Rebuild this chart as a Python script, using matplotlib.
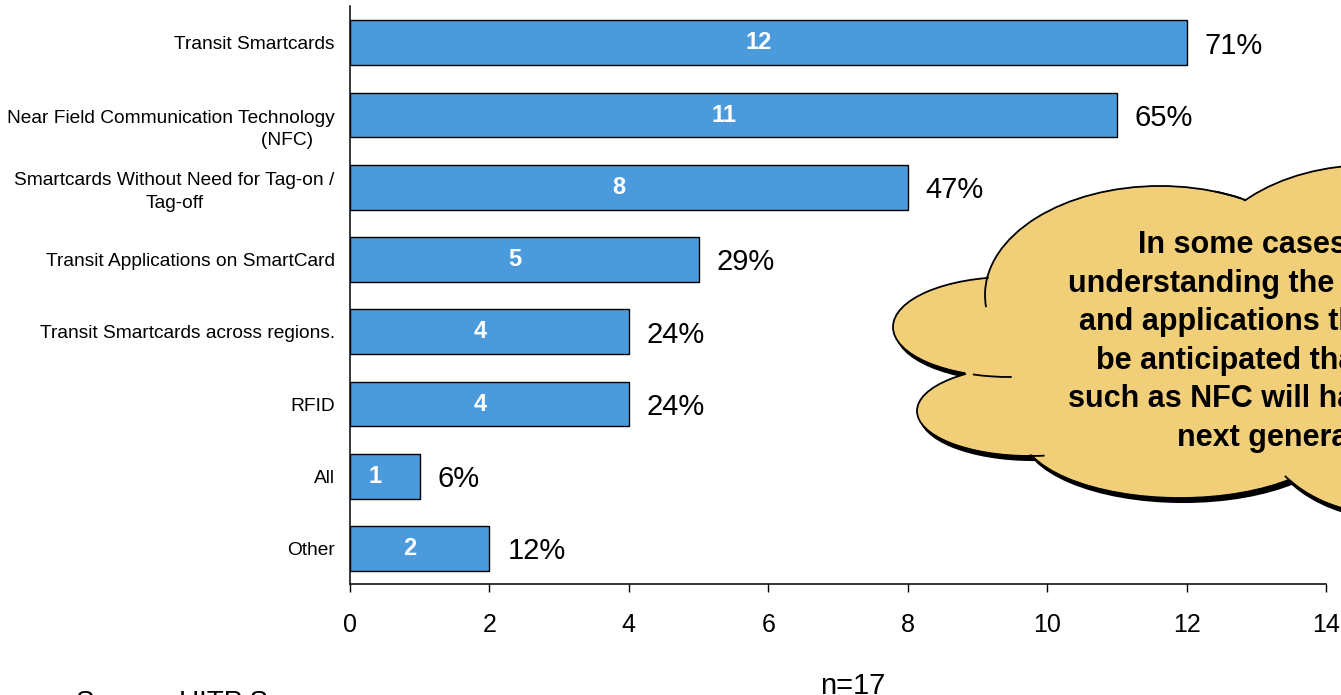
import matplotlib
matplotlib.use("Agg")
import matplotlib.pyplot as plt
from matplotlib.patches import Ellipse, Arc
from matplotlib.transforms import ScaledTranslation

plt.rcParams['font.family'] = ['Liberation Sans', 'DejaVu Sans']

# survey answers, top to bottom
categories = [
    "Transit Smartcards",
    "Near Field Communication Technology\n(NFC)\u00a0\u00a0\u00a0\u00a0",
    "Smartcards Without Need for Tag-on /\nTag-off",
    "Transit Applications on SmartCard",
    "Transit Smartcards across regions.",
    "RFID",
    "All",
    "Other",
]
counts = [12, 11, 8, 5, 4, 4, 1, 2]
n_total = 17
xticks = [0, 2, 4, 6, 8, 10, 12, 14]

callout_lines = [
    "In some cases,",
    "understanding the technologies",
    "and applications that can",
    "be anticipated that technologies",
    "such as NFC will have on the",
    "next generation",
]
source_note = "Source: UITP Survey"

W, H = 1341, 695
fig = plt.figure(figsize=(W / 100, H / 100), dpi=100)
ax = fig.add_axes([350 / W, 1 - 584 / H, (1326 - 350) / W, (584 - 6) / H])

ypos = list(range(len(categories)))
ax.barh(ypos, counts, height=0.62, color='#4A9ADC', edgecolor='black',
        linewidth=1.0, zorder=3)

ax.set_xlim(0, 14)
ax.set_ylim(len(categories) - 0.51, -0.51)
ax.set_xticks(xticks)
ax.tick_params(axis='x', direction='out', length=6, width=1.0, pad=15,
               labelsize=18)
ax.set_yticks(ypos, categories)
ax.tick_params(axis='y', length=0, pad=11, labelsize=13.8)
for lbl in ax.get_yticklabels():
    lbl.set_multialignment('center')
    lbl.set_linespacing(1.4)
# the NFC label hangs below its bar, second line pushed right
nfc = ax.get_yticklabels()[1]
nfc.set_multialignment('right')
nfc.set_transform(nfc.get_transform() + ScaledTranslation(0, -0.10, fig.dpi_scale_trans))

for side in ('top', 'right'):
    ax.spines[side].set_visible(False)
for side in ('left', 'bottom'):
    ax.spines[side].set_linewidth(1.1)

for y, c in zip(ypos, counts):
    ax.annotate(str(c), (c / 2, y), xytext=(-7, 0), textcoords='offset points',
                ha='center', va='center', color='white', fontsize=17,
                fontweight='bold', zorder=4)
    ax.annotate(f"{round(100 * c / n_total)}%", (c, y), xytext=(13, -2),
                textcoords='offset points', ha='left', va='center',
                fontsize=21, zorder=4)

fig.text(853 / W, 1 - 694 / H, f"n={n_total}", ha='center', va='baseline',
         fontsize=21)
# source line sits mostly below the bottom edge
fig.text(76 / W, 1 - 710 / H, source_note, ha='left', va='baseline',
         fontsize=20)

# cloud callout drawn in pixel coordinates
ov = fig.add_axes([0, 0, 1, 1], zorder=5)
ov.set_xlim(0, W)
ov.set_ylim(H, 0)
ov.axis('off')
ov.patch.set_alpha(0)

cloud_fill = '#F1CE78'
lobes = [
    (1160, 295, 350, 218),
    (1370, 275, 340, 220),
    (1010, 327, 234, 100),
    (1030, 411, 226, 90),
    (1180, 430, 320, 136),
    (1390, 420, 260, 190),
]
for cx, cy, w, h in lobes:
    ov.add_patch(Ellipse((cx + 3, cy + 4), w, h, facecolor='black',
                         edgecolor='black', linewidth=1.5, zorder=1))
for cx, cy, w, h in lobes:
    ov.add_patch(Ellipse((cx, cy), w, h, facecolor=cloud_fill,
                         edgecolor='black', linewidth=1.3, zorder=2))
for cx, cy, w, h in lobes:
    ov.add_patch(Ellipse((cx, cy), w - 3, h - 3, facecolor=cloud_fill,
                         edgecolor='none', zorder=3))
ov.add_patch(Ellipse((1160, 345), 400, 240, facecolor=cloud_fill,
                     edgecolor='none', zorder=3))

# little inner curls where the lobes meet
curls = [
    (0, 176, 186),
    (0, -62, -50),
    (2, 88, 128),
    (3, 72, 98),
    (5, 100, 152),
]
for i, t1, t2 in curls:
    cx, cy, w, h = lobes[i]
    ov.add_patch(Arc((cx, cy), w, h, theta1=t1, theta2=t2, color='black',
                     linewidth=1.3, zorder=4))

line_x = [1138, 1068, 1079, 1096, 1068, 1177]
line_y = [253, 292, 330, 369, 407, 446]
for s, x, y in zip(callout_lines, line_x, line_y):
    ov.text(x, y, s, ha='left', va='baseline', fontsize=22,
            fontweight='bold', zorder=6)

fig.savefig('out.png', dpi=100)
